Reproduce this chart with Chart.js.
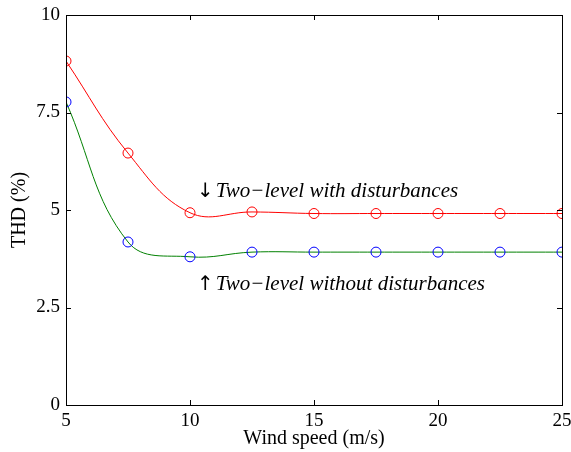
<!DOCTYPE html>
<html>
<head>
<meta charset="utf-8">
<script src="https://cdn.jsdelivr.net/npm/chart.js@4"></script>
<style>
  html, body { margin: 0; padding: 0; background: #fff; }
  #wrap { width: 571px; height: 452px; position: relative; }
</style>
</head>
<body>
<div id="wrap"><canvas id="chart"></canvas></div>
<script>
// wind speed (m/s)
const windSpeed = [5, 7.5, 10, 12.5, 15, 17.5, 20, 22.5, 25];
// THD (%)
const thdWithDist = [8.82, 6.46, 4.93, 4.95, 4.91, 4.91, 4.91, 4.91, 4.91];
const thdWithoutDist = [7.77, 4.18, 3.8, 3.92, 3.92, 3.92, 3.92, 3.92, 3.92];
const xTicks = [5, 10, 15, 20, 25];
const yTicks = [0, 2.5, 5, 7.5, 10];

const SERIF = '"Liberation Serif", "DejaVu Serif", serif';

// labels placed next to the curves, anchored in data units
const notes = [
    { arrow: '\u2193', text: 'Two\u2212level with disturbances', x: 10.28, y: 5.33 },
    { arrow: '\u2191', text: 'Two\u2212level without disturbances', x: 10.28, y: 2.95 }
];

function toPoints(xs, ys) {
    return xs.map((x, i) => ({ x: x, y: ys[i] }));
}

// box around the plot plus inward tick marks, MATLAB style
const boxPlugin = {
    id: 'box',
    afterDraw(chart) {
        const { ctx, chartArea: a, scales } = chart;
        ctx.save();
        ctx.strokeStyle = '#000';
        ctx.lineWidth = 1;
        ctx.strokeRect(a.left + 0.5, a.top + 0.5, a.right - a.left, a.bottom - a.top);
        ctx.beginPath();
        xTicks.forEach(v => {
            const px = Math.round(scales.x.getPixelForValue(v)) + 0.5;
            ctx.moveTo(px, a.bottom); ctx.lineTo(px, a.bottom - 5);
            ctx.moveTo(px, a.top); ctx.lineTo(px, a.top + 5);
        });
        yTicks.forEach(v => {
            const py = Math.round(scales.y.getPixelForValue(v)) + 0.5;
            ctx.moveTo(a.left, py); ctx.lineTo(a.left + 5, py);
            ctx.moveTo(a.right, py); ctx.lineTo(a.right - 5, py);
        });
        ctx.stroke();

        // curve labels
        ctx.fillStyle = '#000';
        ctx.textBaseline = 'alphabetic';
        notes.forEach(n => {
            const px = scales.x.getPixelForValue(n.x);
            const py = scales.y.getPixelForValue(n.y);
            ctx.font = '20px "DejaVu Sans", sans-serif';
            ctx.fillText(n.arrow, px, py);
            const w = ctx.measureText(n.arrow).width;
            ctx.font = 'italic 21px ' + SERIF;
            ctx.fillText(n.text, px + w + 2, py);
        });
        ctx.restore();
    }
};

new Chart(document.getElementById('chart'), {
    type: 'line',
    data: {
        datasets: [
            {
                label: 'Two-level with disturbances',
                data: toPoints(windSpeed, thdWithDist),
                borderColor: '#ff0000',
                borderWidth: 1,
                pointBorderColor: '#ff0000',
                pointBackgroundColor: 'rgba(0,0,0,0)',
                pointRadius: 5, pointBorderWidth: 1,
                tension: 0.4, fill: false
            },
            {
                label: 'Two-level without disturbances',
                data: toPoints(windSpeed, thdWithoutDist),
                borderColor: '#008000',
                borderWidth: 1,
                pointBorderColor: '#0000ff',
                pointBackgroundColor: 'rgba(0,0,0,0)',
                pointRadius: 5, pointBorderWidth: 1,
                tension: 0.4, fill: false
            }
        ]
    },
    options: {
        responsive: true,
        maintainAspectRatio: false,
        animation: false,
        layout: { padding: { top: 15, right: 9, left: 0, bottom: 0 } },
        plugins: { legend: { display: false }, tooltip: { enabled: false } },
        scales: {
            x: {
                type: 'linear', min: 5, max: 25,
                afterBuildTicks: (s) => { s.ticks = xTicks.map(v => ({ value: v })); },
                afterFit: (s) => { s.height = 47; s.paddingLeft = 0; s.paddingRight = 0; },
                grid: { display: false, drawTicks: false },
                border: { display: false },
                ticks: { color: '#000', padding: 5, maxRotation: 0, font: { family: SERIF, size: 19 } },
                title: {
                    display: true, text: 'Wind speed (m/s)', color: '#000',
                    padding: { top: 0, bottom: 1 },
                    font: { family: SERIF, size: 20 }
                }
            },
            y: {
                min: 0, max: 10,
                afterBuildTicks: (s) => { s.ticks = yTicks.map(v => ({ value: v })); },
                afterFit: (s) => { s.width = 66; s.paddingTop = 0; s.paddingBottom = 0; },
                grid: { display: false, drawTicks: false },
                border: { display: false },
                ticks: { color: '#000', padding: 6, font: { family: SERIF, size: 19 } },
                title: {
                    display: true, text: 'THD (%)', color: '#000',
                    padding: { top: 8, bottom: 0 },
                    font: { family: SERIF, size: 20 }
                }
            }
        }
    },
    plugins: [boxPlugin]
});
</script>
</body>
</html>
